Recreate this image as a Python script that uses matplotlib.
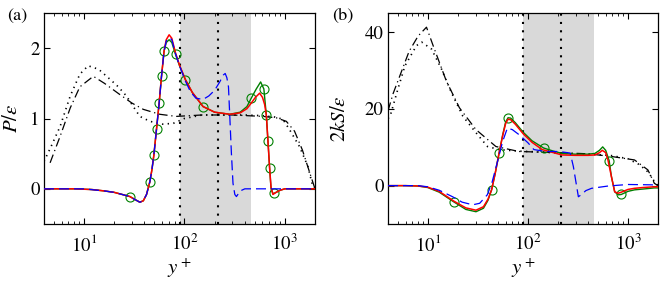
import matplotlib
matplotlib.use("Agg")
import matplotlib.pyplot as plt
from matplotlib.ticker import LogLocator, NullFormatter, FixedLocator

plt.rcParams['font.family'] = ['STIXGeneral', 'DejaVu Serif']
plt.rcParams['mathtext.fontset'] = 'stix'

# ---------------- panel (a): P/eps ----------------
a_red_x = [4, 8, 12, 16, 20, 24, 28.7, 32, 36, 39, 42, 45.3, 47.5, 49.7, 52.8, 56.1, 59.2, 62.8, 66, 70.5, 75,
           81.7, 90, 102.6, 120, 153.5, 200, 283, 360, 420, 464, 510, 562, 600, 630, 655, 680, 706, 730, 762,
           820, 900, 1000, 2000]
a_red_y = [0, 0, -0.01, -0.03, -0.05, -0.08, -0.11, -0.15, -0.19, -0.17, -0.08, 0.10, 0.27, 0.48, 0.85, 1.22,
           1.60, 1.96, 2.12, 2.19, 2.14, 1.93, 1.75, 1.55, 1.37, 1.17, 1.09, 1.06, 1.08, 1.14, 1.22, 1.30, 1.36,
           1.30, 1.20, 1.05, 0.68, 0.30, 0.02, -0.08, -0.05, -0.02, 0, 0]
a_grn_x = [4, 8, 12, 16, 20, 24, 28.7, 32, 36, 39, 42, 45.3, 47.5, 49.7, 52.8, 56.1, 59.2, 62.8, 66, 70.5, 75,
           81.7, 90, 102.6, 120, 153.5, 200, 283, 360, 420, 464, 520, 575, 619, 655, 680, 706, 730, 765,
           820, 900, 1000, 2000]
a_grn_y = [0, 0, -0.01, -0.03, -0.05, -0.08, -0.11, -0.15, -0.19, -0.17, -0.08, 0.10, 0.27, 0.48, 0.85, 1.22,
           1.60, 1.96, 2.08, 2.12, 2.08, 1.91, 1.74, 1.55, 1.37, 1.17, 1.09, 1.06, 1.09, 1.17, 1.29, 1.42, 1.52,
           1.42, 1.05, 0.68, 0.30, 0.0, -0.07, -0.05, -0.02, 0, 0]
a_mk_x = [28.7, 45.3, 49.7, 52.8, 56.1, 59.2, 62.8, 81.7, 102.6, 153.5, 464, 619, 655, 680, 706, 775]
a_mk_y = [-0.11, 0.10, 0.48, 0.85, 1.22, 1.60, 1.96, 1.91, 1.55, 1.17, 1.29, 1.42, 1.05, 0.68, 0.30, -0.06]
a_blu_x = [4, 10, 16, 20, 24, 28.7, 32, 36, 39, 42, 45.3, 47.5, 49.7, 52.8, 56.1, 59.2, 62.8, 66, 70.5, 75,
           81.7, 90, 102.6, 115, 130, 153, 175, 200, 225, 245, 255, 265, 275, 283, 294, 305, 318, 330, 360,
           400, 2000]
a_blu_y = [0, 0, -0.03, -0.05, -0.08, -0.11, -0.15, -0.19, -0.17, -0.08, 0.10, 0.27, 0.48, 0.85, 1.22, 1.60,
           1.96, 2.10, 2.15, 2.12, 1.92, 1.74, 1.53, 1.38, 1.29, 1.27, 1.32, 1.40, 1.52, 1.62, 1.64, 1.58, 1.45,
           1.05, 0.51, 0.08, -0.08, -0.11, -0.03, 0, 0]
a_dot_x = [4, 4.7, 5.8, 7.3, 9.1, 11, 14, 18.1, 22, 26.5, 31, 36, 45.3, 60, 77.3, 100, 150, 250, 400, 600,
           800, 956, 1117, 1403, 1698, 1905, 2000]
a_dot_y = [0.39, 0.6, 0.89, 1.32, 1.63, 1.75, 1.70, 1.56, 1.45, 1.32, 1.17, 1.03, 0.96, 0.92, 0.93, 1.00,
           1.05, 1.05, 1.05, 1.04, 1.02, 0.99, 0.84, 0.60, 0.32, 0.03, 0.0]
a_dd_x = [4.6, 5.8, 7.3, 9.1, 12.4, 16, 22.8, 30, 39, 56.9, 83, 150, 300, 603, 822, 1036, 1250, 1500, 1800, 2000]
a_dd_y = [0.37, 0.75, 1.15, 1.45, 1.60, 1.50, 1.34, 1.22, 1.13, 1.06, 1.03, 1.05, 1.05, 1.03, 1.01, 0.96,
          0.82, 0.55, 0.2, 0.0]

# ---------------- panel (b): 2kS/eps ----------------
b_red_x = [4, 6, 8, 10, 13, 18.1, 24, 30.3, 36, 40, 43.4, 47, 51.6, 56, 60, 63.4, 67.4, 75, 90, 110, 139,
           180, 219, 297, 400, 468, 520, 555, 600, 632, 684, 738, 795, 860, 1000, 1164, 1400, 1837, 2000]
b_red_y = [0, 0, -0.1, -0.4, -1.5, -4.0, -5.8, -6.4, -5.5, -3.5, -1.1, 3.0, 8.5, 13.0, 16.2, 17.3, 17.2, 16.0,
           13.5, 11.3, 9.4, 8.6, 8.0, 7.9, 7.9, 8.0, 8.6, 9.2, 8.6, 6.7, 2.4, -1.6, -2.0, -1.7, -1.0, -0.7,
           -0.5, -0.3, -0.3]
b_grn_x = [4, 6, 8, 10, 13, 18.1, 24, 30.3, 36, 40, 43.4, 47, 51.6, 56, 60, 63.4, 67.4, 75, 90, 110, 144,
           180, 219, 297, 400, 468, 520, 560, 600, 650, 684, 738, 800, 859, 1000, 1164, 1400, 1837, 2000]
b_grn_y = [0, 0, -0.1, -0.5, -1.7, -4.2, -6.2, -6.8, -5.9, -3.8, -1.1, 3.0, 8.5, 13.2, 16.6, 17.7, 17.6, 16.4,
           13.9, 11.7, 9.8, 9.0, 8.4, 8.2, 8.2, 8.4, 9.2, 10.1, 9.2, 6.5, 2.4, -1.6, -2.4, -2.3, -1.5, -1.1,
           -0.9, -0.6, -0.6]
b_mk_x = [18.1, 43.4, 51.6, 63.4, 144, 650, 859]
b_mk_y = [-4.2, -1.1, 8.5, 17.7, 9.8, 6.5, -2.3]
b_blu_x = [4, 8, 10, 13, 17.7, 22, 28.1, 33, 39.3, 44, 50, 56, 62.4, 70, 81.5, 100, 115, 150, 203, 265, 285,
           308, 320, 340, 380, 433, 634, 1000, 1840, 2000]
b_blu_y = [0, 0, -0.3, -1.2, -2.9, -4.3, -5.0, -4.6, -2.4, 1.0, 6.5, 11.5, 15.0, 14.6, 13.3, 11.2, 9.4, 8.9,
           8.9, 8.5, 5.0, -0.3, -2.9, -2.4, -1.3, -0.7, -0.1, 0.3, 0.2, 0.2]
b_dot_x = [4, 4.2, 5.0, 5.9, 7.7, 8.7, 10.9, 13.7, 17.2, 22.4, 30.3, 39.5, 51.6, 80, 150, 300, 500, 700,
           1000, 1300, 1600, 1850, 2000]
b_dot_y = [17.5, 18.1, 25, 31.2, 36.5, 37.4, 35.6, 30.4, 24.3, 18.1, 13.8, 10.2, 9.4, 9.0, 8.7, 8.3, 8.1,
           7.8, 7.0, 5.5, 3.5, 1.0, 0]
b_dd_x = [4, 4.5, 5.5, 6.5, 8, 9.7, 11.3, 15.3, 20.7, 30.3, 47.9, 81.5, 200, 400, 684, 1164, 1585, 1840, 2000]
b_dd_y = [19.5, 24, 30, 35, 39, 41.3, 36.5, 27.3, 20.3, 14.6, 10.2, 8.9, 8.6, 8.3, 7.6, 6.7, 4.1, 0.6, 0]

shade_range = [90, 460]
vlines_x = [90, 216]
xlim = [4, 2000]
a_ylim = [-0.5, 2.5]
a_yticks = [0, 1, 2]
b_ylim = [-10, 45]
b_yticks = [0, 20, 40]

fig = plt.figure(figsize=(6.64, 2.88), dpi=100)
AX_W = 271
axa = fig.add_axes([44 / 664, 64 / 288, 271 / 664, 211 / 288])
axb = fig.add_axes([388 / 664, 64 / 288, 270 / 664, 211 / 288])

RED = '#ff0000'
GRN = '#008000'
BLU = '#0000ff'
fs = 13.5


def style(ax, ylim, yticks, ylabel, tag, ylabel_x, tag_x):
    ax.set_xscale('log')
    ax.set_xlim(*xlim)
    ax.set_ylim(*ylim)
    ax.axvspan(shade_range[0], shade_range[1], color='#d9d9d9', lw=0, zorder=0)
    for xv in vlines_x:
        ax.axvline(xv, color='k', lw=1.5, ls=(0, (1, 3)), zorder=1)
    ax.set_yticks(yticks)
    ax.xaxis.set_major_locator(FixedLocator([10, 100, 1000]))
    ax.xaxis.set_minor_locator(LogLocator(base=10, subs=range(2, 10), numticks=20))
    ax.xaxis.set_minor_formatter(NullFormatter())
    ax.set_xticklabels([r'$10^1$', r'$10^2$', r'$10^3$'])
    ax.tick_params(which='major', direction='in', length=4, width=0.8, top=True, right=True,
                   labelsize=fs)
    ax.tick_params(axis='x', which='major', pad=7)
    ax.tick_params(axis='y', which='major', pad=3)
    ax.tick_params(which='minor', direction='in', length=2, width=0.6, top=True, right=True)
    for s in ax.spines.values():
        s.set_linewidth(0.9)
    ax.set_xlabel(r'$y^+$', fontsize=15, labelpad=1)
    ax.set_ylabel(ylabel, fontsize=15)
    ax.yaxis.label.set_va('center')
    ax.yaxis.set_label_coords(ylabel_x, 0.5)
    ax.text(tag_x, 0.985, tag, transform=ax.transAxes, fontsize=13, ha='left', va='center')


def draw(ax, gx, gy, mx, my, rx, ry, bx, by, dx, dy, ddx, ddy):
    ax.plot(dx, dy, color='k', lw=1.2, ls=(0, (0.8, 2.6)), zorder=2)
    ax.plot(ddx, ddy, color='k', lw=0.9, ls=(0, (7, 3, 1, 3)), zorder=2)
    ax.plot(gx, gy, color=GRN, lw=1.0, zorder=3)
    ax.plot(mx, my, ls='none', marker='o', ms=6.5, mfc='none', mec=GRN, mew=0.8, zorder=3)
    ax.plot(rx, ry, color=RED, lw=1.1, zorder=4)
    ax.plot(bx, by, color=BLU, lw=0.9, ls=(0, (8, 4)), zorder=5)


draw(axa, a_grn_x, a_grn_y, a_mk_x, a_mk_y, a_red_x, a_red_y, a_blu_x, a_blu_y,
     a_dot_x, a_dot_y, a_dd_x, a_dd_y)
draw(axb, b_grn_x, b_grn_y, b_mk_x, b_mk_y, b_red_x, b_red_y, b_blu_x, b_blu_y,
     b_dot_x, b_dot_y, b_dd_x, b_dd_y)

style(axa, a_ylim, a_yticks, r'$P/\epsilon$', '(a)', (12 - 44) / 271, (7 - 44) / 271)
style(axb, b_ylim, b_yticks, r'$2kS/\epsilon$', '(b)', (340 - 388) / 270, (332 - 388) / 270)

fig.savefig('out.png', dpi=100)
